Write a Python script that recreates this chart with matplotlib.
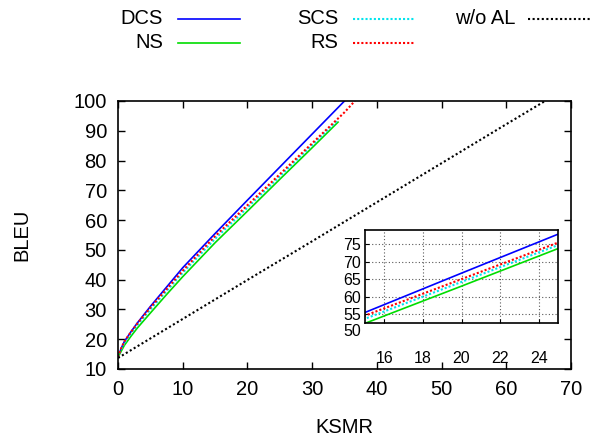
import matplotlib
matplotlib.use("Agg")
import matplotlib.pyplot as plt
from matplotlib.lines import Line2D

plt.rcParams['font.family'] = ['Liberation Sans', 'DejaVu Sans']

# data
ksmr_dcs = [0, 0.5, 1, 2, 3, 5, 7.5, 10, 15, 20, 25, 30, 35]
bleu_dcs = [14, 17, 19.3, 22.5, 25.5, 31, 37.5, 44, 55.5, 66.7, 77.8, 88.9, 100]
ksmr_ns = [0, 0.5, 1, 2, 3, 5, 7.5, 10, 15, 20, 25, 30, 34]
bleu_ns = [14, 16, 18, 21, 23.8, 28.8, 35, 41, 52.4, 63, 73.7, 84.3, 92.9]
ksmr_scs = [0, 0.5, 1, 2, 3, 5, 7.5, 10, 15, 20, 25, 30, 33.8]
bleu_scs = [14, 16.6, 18.8, 21.9, 24.8, 30, 36.2, 42.3, 53.7, 64.2, 74.7, 85.2, 93.2]
ksmr_rs = [0, 0.5, 1, 2, 3, 5, 7.5, 10, 15, 20, 25, 30, 35, 36.6]
bleu_rs = [14, 17, 19.3, 22.4, 25.3, 30.6, 36.8, 43, 54.6, 65, 75.4, 85.8, 96.2, 100]
ksmr_noal = [0, 10, 20, 30, 40, 50, 60, 66]
bleu_noal = [13.7, 26.8, 39.9, 52.9, 66, 79.1, 92.2, 100]

series = [
    ('DCS', ksmr_dcs, bleu_dcs, '#0000ff', '-'),
    ('NS', ksmr_ns, bleu_ns, '#00dd00', '-'),
    ('SCS', ksmr_scs, bleu_scs, '#00e5ee', (0, (1, 1))),
    ('RS', ksmr_rs, bleu_rs, '#ff0000', (0, (1, 1))),
    ('w/o AL', ksmr_noal, bleu_noal, 'black', (0, (1, 1.2))),
]

fig = plt.figure(figsize=(5.97, 4.41), dpi=100)
ax = fig.add_axes([0.1977, 0.1633, 0.7587, 0.6077])

for name, xs, ys, c, ls in series:
    lw = 1.2 if ls == '-' else 1.5
    ax.plot(xs, ys, color=c, linestyle=ls, linewidth=lw)

ax.set_xlim(0, 70)
ax.set_ylim(10, 100)
ax.set_xticks(range(0, 71, 10))
ax.set_yticks(range(10, 101, 10))
ax.tick_params(direction='in', length=5, width=1, top=True, right=True,
               labelsize=14.5, pad=8)
for s in ax.spines.values():
    s.set_linewidth(1.2)
ax.set_xlabel('KSMR', fontsize=14.5, va='center')
ax.set_ylabel('BLEU', fontsize=14.5, va='center')
ax.xaxis.set_label_coords(0.5, -0.219)
ax.yaxis.set_label_coords(-0.212, 0.5)

# inset
ins = fig.add_axes([0.6114, 0.2676, 0.3233, 0.2109])
for name, xs, ys, c, ls in series[:4]:
    lw = 1.2 if ls == '-' else 1.5
    ins.plot(xs, ys, color=c, linestyle=ls, linewidth=lw)
ins.set_xlim(15, 25)
ins.set_ylim(52.5, 79)
ins.set_xticks(range(16, 25, 2))
ins.set_yticks(range(55, 76, 5))
ins.grid(True, color='0.35', linestyle=(0, (1, 2)), linewidth=0.8)
ins.tick_params(direction='in', length=3, labelsize=11.5)
ins.tick_params(axis='x', pad=20)
ins.tick_params(axis='y', pad=3)
ins.text(-0.02, 50, '50', transform=ins.get_yaxis_transform(), ha='right',
         va='center', fontsize=11.5, clip_on=False)
for s in ins.spines.values():
    s.set_linewidth(1.2)

# legend, gnuplot style (text then sample)
W, H = 597.0, 441.0
legend_rows = [
    ('DCS', 163, 178, 240, 19), ('NS', 163, 178, 240, 43),
    ('SCS', 338, 353, 415, 19), ('RS', 338, 353, 415, 43),
    ('w/o AL', 515, 528, 590, 19),
]
styles = {name: (c, ls) for name, xs, ys, c, ls in series}
for name, tx, x0, x1, y in legend_rows:
    c, ls = styles[name]
    fig.text(tx / W, 1 - y / H, name, ha='right', va='center', fontsize=14.5)
    lw = 1.2 if ls == '-' else 1.5
    fig.add_artist(Line2D([x0 / W, x1 / W], [1 - y / H, 1 - y / H],
                          transform=fig.transFigure, color=c, linestyle=ls,
                          linewidth=lw))

fig.savefig('out.png', dpi=100)
